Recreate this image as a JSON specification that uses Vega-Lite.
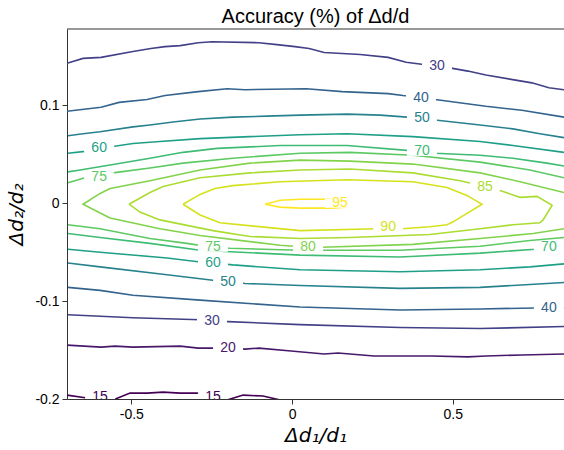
{
  "$schema": "https://vega.github.io/schema/vega-lite/v6.json",
  "width": 497,
  "height": 370,
  "autosize": {"type": "none"},
  "padding": {"left": 67, "top": 29, "right": 0, "bottom": 51},
  "background": "white",
  "config": {
    "view": {"stroke": null},
    "font": "Liberation Sans",
    "axis": {
      "domainColor": "#333333",
      "tickColor": "#333333",
      "labelColor": "#000000",
      "labelFont": "Liberation Sans",
      "labelFontSize": 14,
      "tickSize": 5,
      "grid": false,
      "labelFlush": false,
      "labelOverlap": false,
      "titleFont": "DejaVu Sans",
      "titleFontSize": 20,
      "titleFontWeight": "normal",
      "titleFontStyle": "italic",
      "titleColor": "#000000"
    }
  },
  "title": {"text": "Accuracy (%) of Δd/d", "fontSize": 20, "font": "Liberation Sans", "fontWeight": "normal", "color": "#000000", "anchor": "middle", "offset": 2},
  "datasets": {
    "lines": [
      {"lv":30,"g":"30u","o":0,"x":-0.700,"y":0.143},{"lv":30,"g":"30u","o":1,"x":-0.650,"y":0.148},{"lv":30,"g":"30u","o":2,"x":-0.594,"y":0.149},{"lv":30,"g":"30u","o":3,"x":-0.495,"y":0.155},{"lv":30,"g":"30u","o":4,"x":-0.439,"y":0.158},{"lv":30,"g":"30u","o":5,"x":-0.395,"y":0.160},{"lv":30,"g":"30u","o":6,"x":-0.348,"y":0.161},{"lv":30,"g":"30u","o":7,"x":-0.292,"y":0.164},{"lv":30,"g":"30u","o":8,"x":-0.249,"y":0.165},{"lv":30,"g":"30u","o":9,"x":-0.103,"y":0.164},{"lv":30,"g":"30u","o":10,"x":-0.047,"y":0.162},{"lv":30,"g":"30u","o":11,"x":0.009,"y":0.160},{"lv":30,"g":"30u","o":12,"x":0.053,"y":0.158},{"lv":30,"g":"30u","o":13,"x":0.100,"y":0.154},{"lv":30,"g":"30u","o":14,"x":0.212,"y":0.152},{"lv":30,"g":"30u","o":15,"x":0.299,"y":0.149},{"lv":30,"g":"30u","o":16,"x":0.355,"y":0.144},{"lv":30,"g":"30u","o":17,"x":0.451,"y":0.140},{"lv":30,"g":"30u","o":18,"x":0.495,"y":0.138},{"lv":30,"g":"30u","o":19,"x":0.547,"y":0.135},{"lv":30,"g":"30u","o":20,"x":0.603,"y":0.131},{"lv":30,"g":"30u","o":21,"x":0.691,"y":0.126},{"lv":30,"g":"30u","o":22,"x":0.746,"y":0.123},{"lv":30,"g":"30u","o":23,"x":0.799,"y":0.118},{"lv":30,"g":"30u","o":24,"x":0.846,"y":0.116},

      {"lv":40,"g":"40u","o":0,"x":-0.700,"y":0.094},{"lv":40,"g":"40u","o":1,"x":-0.594,"y":0.098},{"lv":40,"g":"40u","o":2,"x":-0.538,"y":0.103},{"lv":40,"g":"40u","o":3,"x":-0.451,"y":0.106},{"lv":40,"g":"40u","o":4,"x":-0.395,"y":0.110},{"lv":40,"g":"40u","o":5,"x":-0.292,"y":0.114},{"lv":40,"g":"40u","o":6,"x":-0.202,"y":0.117},{"lv":40,"g":"40u","o":7,"x":-0.146,"y":0.116},{"lv":40,"g":"40u","o":8,"x":0.044,"y":0.117},{"lv":40,"g":"40u","o":9,"x":0.156,"y":0.114},{"lv":40,"g":"40u","o":10,"x":0.299,"y":0.112},{"lv":40,"g":"40u","o":11,"x":0.345,"y":0.110},{"lv":40,"g":"40u","o":12,"x":0.401,"y":0.108},{"lv":40,"g":"40u","o":13,"x":0.445,"y":0.106},{"lv":40,"g":"40u","o":14,"x":0.603,"y":0.099},{"lv":40,"g":"40u","o":15,"x":0.715,"y":0.095},{"lv":40,"g":"40u","o":16,"x":0.846,"y":0.088},

      {"lv":50,"g":"50u","o":0,"x":-0.697,"y":0.069},{"lv":50,"g":"50u","o":1,"x":-0.650,"y":0.071},{"lv":50,"g":"50u","o":2,"x":-0.597,"y":0.073},{"lv":50,"g":"50u","o":3,"x":-0.495,"y":0.078},{"lv":50,"g":"50u","o":4,"x":-0.442,"y":0.080},{"lv":50,"g":"50u","o":5,"x":-0.370,"y":0.083},{"lv":50,"g":"50u","o":6,"x":-0.286,"y":0.086},{"lv":50,"g":"50u","o":7,"x":-0.184,"y":0.088},{"lv":50,"g":"50u","o":8,"x":-0.078,"y":0.089},{"lv":50,"g":"50u","o":9,"x":0.025,"y":0.090},{"lv":50,"g":"50u","o":10,"x":0.171,"y":0.091},{"lv":50,"g":"50u","o":11,"x":0.274,"y":0.090},{"lv":50,"g":"50u","o":12,"x":0.358,"y":0.088},{"lv":50,"g":"50u","o":13,"x":0.404,"y":0.087},{"lv":50,"g":"50u","o":14,"x":0.445,"y":0.085},{"lv":50,"g":"50u","o":15,"x":0.585,"y":0.080},{"lv":50,"g":"50u","o":16,"x":0.687,"y":0.076},{"lv":50,"g":"50u","o":17,"x":0.771,"y":0.071},{"lv":50,"g":"50u","o":18,"x":0.846,"y":0.067},

      {"lv":60,"g":"60u","o":0,"x":-0.697,"y":0.051},{"lv":60,"g":"60u","o":1,"x":-0.644,"y":0.053},{"lv":60,"g":"60u","o":2,"x":-0.600,"y":0.056},{"lv":60,"g":"60u","o":3,"x":-0.557,"y":0.058},{"lv":60,"g":"60u","o":4,"x":-0.495,"y":0.061},{"lv":60,"g":"60u","o":5,"x":-0.411,"y":0.063},{"lv":60,"g":"60u","o":6,"x":-0.286,"y":0.066},{"lv":60,"g":"60u","o":7,"x":-0.131,"y":0.068},{"lv":60,"g":"60u","o":8,"x":0.025,"y":0.070},{"lv":60,"g":"60u","o":9,"x":0.171,"y":0.071},{"lv":60,"g":"60u","o":10,"x":0.376,"y":0.068},{"lv":60,"g":"60u","o":11,"x":0.585,"y":0.063},{"lv":60,"g":"60u","o":12,"x":0.687,"y":0.059},{"lv":60,"g":"60u","o":13,"x":0.846,"y":0.052},

      {"lv":70,"g":"70u","o":0,"x":-0.697,"y":0.032},{"lv":70,"g":"70u","o":1,"x":-0.659,"y":0.034},{"lv":70,"g":"70u","o":2,"x":-0.566,"y":0.039},{"lv":70,"g":"70u","o":3,"x":-0.442,"y":0.046},{"lv":70,"g":"70u","o":4,"x":-0.339,"y":0.052},{"lv":70,"g":"70u","o":5,"x":-0.233,"y":0.056},{"lv":70,"g":"70u","o":6,"x":-0.037,"y":0.059},{"lv":70,"g":"70u","o":7,"x":0.171,"y":0.059},{"lv":70,"g":"70u","o":8,"x":0.358,"y":0.054},{"lv":70,"g":"70u","o":9,"x":0.404,"y":0.053},{"lv":70,"g":"70u","o":10,"x":0.445,"y":0.051},{"lv":70,"g":"70u","o":11,"x":0.585,"y":0.049},{"lv":70,"g":"70u","o":12,"x":0.687,"y":0.046},{"lv":70,"g":"70u","o":13,"x":0.793,"y":0.041},{"lv":70,"g":"70u","o":14,"x":0.846,"y":0.038},

      {"lv":75,"g":"75u","o":0,"x":-0.697,"y":0.021},{"lv":75,"g":"75u","o":1,"x":-0.644,"y":0.026},{"lv":75,"g":"75u","o":2,"x":-0.600,"y":0.027},{"lv":75,"g":"75u","o":3,"x":-0.557,"y":0.031},{"lv":75,"g":"75u","o":4,"x":-0.442,"y":0.036},{"lv":75,"g":"75u","o":5,"x":-0.339,"y":0.041},{"lv":75,"g":"75u","o":6,"x":-0.184,"y":0.046},{"lv":75,"g":"75u","o":7,"x":0.025,"y":0.051},{"lv":75,"g":"75u","o":8,"x":0.180,"y":0.052},{"lv":75,"g":"75u","o":9,"x":0.376,"y":0.049},{"lv":75,"g":"75u","o":10,"x":0.585,"y":0.042},{"lv":75,"g":"75u","o":11,"x":0.740,"y":0.034},{"lv":75,"g":"75u","o":12,"x":0.846,"y":0.026},

      {"lv":80,"g":"80","o":0,"x":0.846,"y":0.011},{"lv":80,"g":"80","o":1,"x":0.709,"y":0.022},{"lv":80,"g":"80","o":2,"x":0.585,"y":0.031},{"lv":80,"g":"80","o":3,"x":0.376,"y":0.040},{"lv":80,"g":"80","o":4,"x":0.180,"y":0.043},{"lv":80,"g":"80","o":5,"x":0.025,"y":0.044},{"lv":80,"g":"80","o":6,"x":-0.131,"y":0.041},{"lv":80,"g":"80","o":7,"x":-0.286,"y":0.034},{"lv":80,"g":"80","o":8,"x":-0.442,"y":0.023},{"lv":80,"g":"80","o":9,"x":-0.566,"y":0.015},{"lv":80,"g":"80","o":10,"x":-0.597,"y":0.010},{"lv":80,"g":"80","o":11,"x":-0.650,"y":-0.001},{"lv":80,"g":"80","o":12,"x":-0.597,"y":-0.010},{"lv":80,"g":"80","o":13,"x":-0.566,"y":-0.015},{"lv":80,"g":"80","o":14,"x":-0.411,"y":-0.026},{"lv":80,"g":"80","o":15,"x":-0.286,"y":-0.033},{"lv":80,"g":"80","o":16,"x":-0.037,"y":-0.043},{"lv":80,"g":"80","o":17,"x":0.050,"y":-0.045},{"lv":80,"g":"80","o":18,"x":0.093,"y":-0.045},{"lv":80,"g":"80","o":19,"x":0.376,"y":-0.042},{"lv":80,"g":"80","o":20,"x":0.585,"y":-0.036},{"lv":80,"g":"80","o":21,"x":0.750,"y":-0.031},{"lv":80,"g":"80","o":22,"x":0.846,"y":-0.026},

      {"lv":85,"g":"85","o":0,"x":-0.507,"y":-0.001},{"lv":85,"g":"85","o":1,"x":-0.442,"y":0.011},{"lv":85,"g":"85","o":2,"x":-0.401,"y":0.017},{"lv":85,"g":"85","o":3,"x":-0.286,"y":0.026},{"lv":85,"g":"85","o":4,"x":-0.131,"y":0.031},{"lv":85,"g":"85","o":5,"x":0.025,"y":0.034},{"lv":85,"g":"85","o":6,"x":0.180,"y":0.035},{"lv":85,"g":"85","o":7,"x":0.376,"y":0.031},{"lv":85,"g":"85","o":8,"x":0.523,"y":0.023},{"lv":85,"g":"85","o":9,"x":0.600,"y":0.017},{"lv":85,"g":"85","o":10,"x":0.647,"y":0.013},{"lv":85,"g":"85","o":11,"x":0.709,"y":0.006},{"lv":85,"g":"85","o":12,"x":0.762,"y":0.007},{"lv":85,"g":"85","o":13,"x":0.809,"y":-0.002},{"lv":85,"g":"85","o":14,"x":0.781,"y":-0.017},{"lv":85,"g":"85","o":15,"x":0.771,"y":-0.020},{"lv":85,"g":"85","o":16,"x":0.687,"y":-0.022},{"lv":85,"g":"85","o":17,"x":0.585,"y":-0.026},{"lv":85,"g":"85","o":18,"x":0.429,"y":-0.032},{"lv":85,"g":"85","o":19,"x":0.180,"y":-0.035},{"lv":85,"g":"85","o":20,"x":0.025,"y":-0.036},{"lv":85,"g":"85","o":21,"x":-0.131,"y":-0.034},{"lv":85,"g":"85","o":22,"x":-0.246,"y":-0.028},{"lv":85,"g":"85","o":23,"x":-0.411,"y":-0.017},{"lv":85,"g":"85","o":24,"x":-0.473,"y":-0.009},{"lv":85,"g":"85","o":25,"x":-0.507,"y":-0.001},

      {"lv":90,"g":"90","o":0,"x":-0.339,"y":-0.001},{"lv":90,"g":"90","o":1,"x":-0.286,"y":0.009},{"lv":90,"g":"90","o":2,"x":-0.240,"y":0.015},{"lv":90,"g":"90","o":3,"x":-0.184,"y":0.018},{"lv":90,"g":"90","o":4,"x":-0.037,"y":0.022},{"lv":90,"g":"90","o":5,"x":0.171,"y":0.024},{"lv":90,"g":"90","o":6,"x":0.376,"y":0.022},{"lv":90,"g":"90","o":7,"x":0.482,"y":0.016},{"lv":90,"g":"90","o":8,"x":0.544,"y":0.008},{"lv":90,"g":"90","o":9,"x":0.591,"y":-0.001},{"lv":90,"g":"90","o":10,"x":0.501,"y":-0.019},{"lv":90,"g":"90","o":11,"x":0.482,"y":-0.022},{"lv":90,"g":"90","o":12,"x":0.429,"y":-0.024},{"lv":90,"g":"90","o":13,"x":0.342,"y":-0.026},{"lv":90,"g":"90","o":14,"x":0.299,"y":-0.026},{"lv":90,"g":"90","o":15,"x":0.264,"y":-0.026},{"lv":90,"g":"90","o":16,"x":0.025,"y":-0.028},{"lv":90,"g":"90","o":17,"x":-0.224,"y":-0.020},{"lv":90,"g":"90","o":18,"x":-0.286,"y":-0.012},{"lv":90,"g":"90","o":19,"x":-0.339,"y":-0.001},

      {"lv":95,"g":"95","o":0,"x":-0.084,"y":-0.001},{"lv":95,"g":"95","o":1,"x":-0.037,"y":0.003},{"lv":95,"g":"95","o":2,"x":0.025,"y":0.004},{"lv":95,"g":"95","o":3,"x":0.118,"y":0.004},{"lv":95,"g":"95","o":4,"x":0.165,"y":0.002},{"lv":95,"g":"95","o":5,"x":0.180,"y":-0.001},{"lv":95,"g":"95","o":6,"x":0.165,"y":-0.004},{"lv":95,"g":"95","o":7,"x":0.118,"y":-0.005},{"lv":95,"g":"95","o":8,"x":0.025,"y":-0.005},{"lv":95,"g":"95","o":9,"x":-0.037,"y":-0.004},{"lv":95,"g":"95","o":10,"x":-0.084,"y":-0.001},

      {"lv":75,"g":"75l","o":0,"x":-0.697,"y":-0.022},{"lv":75,"g":"75l","o":1,"x":-0.597,"y":-0.026},{"lv":75,"g":"75l","o":2,"x":-0.442,"y":-0.036},{"lv":75,"g":"75l","o":3,"x":-0.327,"y":-0.041},{"lv":75,"g":"75l","o":4,"x":-0.246,"y":-0.045},{"lv":75,"g":"75l","o":5,"x":-0.193,"y":-0.046},{"lv":75,"g":"75l","o":6,"x":0.025,"y":-0.048},{"lv":75,"g":"75l","o":7,"x":0.336,"y":-0.048},{"lv":75,"g":"75l","o":8,"x":0.585,"y":-0.044},{"lv":75,"g":"75l","o":9,"x":0.740,"y":-0.038},{"lv":75,"g":"75l","o":10,"x":0.846,"y":-0.035},

      {"lv":70,"g":"70l","o":0,"x":-0.697,"y":-0.031},{"lv":70,"g":"70l","o":1,"x":-0.597,"y":-0.035},{"lv":70,"g":"70l","o":2,"x":-0.442,"y":-0.041},{"lv":70,"g":"70l","o":3,"x":-0.286,"y":-0.048},{"lv":70,"g":"70l","o":4,"x":0.025,"y":-0.053},{"lv":70,"g":"70l","o":5,"x":0.336,"y":-0.055},{"lv":70,"g":"70l","o":6,"x":0.585,"y":-0.051},{"lv":70,"g":"70l","o":7,"x":0.756,"y":-0.047},{"lv":70,"g":"70l","o":8,"x":0.799,"y":-0.045},{"lv":70,"g":"70l","o":9,"x":0.846,"y":-0.043},

      {"lv":60,"g":"60l","o":0,"x":-0.697,"y":-0.047},{"lv":60,"g":"60l","o":1,"x":-0.597,"y":-0.050},{"lv":60,"g":"60l","o":2,"x":-0.389,"y":-0.056},{"lv":60,"g":"60l","o":3,"x":-0.286,"y":-0.060},{"lv":60,"g":"60l","o":4,"x":-0.246,"y":-0.061},{"lv":60,"g":"60l","o":5,"x":-0.184,"y":-0.063},{"lv":60,"g":"60l","o":6,"x":0.025,"y":-0.068},{"lv":60,"g":"60l","o":7,"x":0.336,"y":-0.070},{"lv":60,"g":"60l","o":8,"x":0.585,"y":-0.068},{"lv":60,"g":"60l","o":9,"x":0.740,"y":-0.065},{"lv":60,"g":"60l","o":10,"x":0.846,"y":-0.062},

      {"lv":50,"g":"50l","o":0,"x":-0.697,"y":-0.061},{"lv":50,"g":"50l","o":1,"x":-0.597,"y":-0.065},{"lv":50,"g":"50l","o":2,"x":-0.389,"y":-0.073},{"lv":50,"g":"50l","o":3,"x":-0.240,"y":-0.079},{"lv":50,"g":"50l","o":4,"x":-0.199,"y":-0.080},{"lv":50,"g":"50l","o":5,"x":-0.146,"y":-0.082},{"lv":50,"g":"50l","o":6,"x":0.025,"y":-0.084},{"lv":50,"g":"50l","o":7,"x":0.336,"y":-0.087},{"lv":50,"g":"50l","o":8,"x":0.585,"y":-0.086},{"lv":50,"g":"50l","o":9,"x":0.740,"y":-0.083},{"lv":50,"g":"50l","o":10,"x":0.846,"y":-0.081},

      {"lv":40,"g":"40l","o":0,"x":-0.697,"y":-0.086},{"lv":40,"g":"40l","o":1,"x":-0.597,"y":-0.089},{"lv":40,"g":"40l","o":2,"x":-0.495,"y":-0.094},{"lv":40,"g":"40l","o":3,"x":-0.286,"y":-0.099},{"lv":40,"g":"40l","o":4,"x":0.025,"y":-0.106},{"lv":40,"g":"40l","o":5,"x":0.336,"y":-0.109},{"lv":40,"g":"40l","o":6,"x":0.585,"y":-0.108},{"lv":40,"g":"40l","o":7,"x":0.756,"y":-0.107},{"lv":40,"g":"40l","o":8,"x":0.799,"y":-0.107},{"lv":40,"g":"40l","o":9,"x":0.846,"y":-0.107},

      {"lv":30,"g":"30l","o":0,"x":-0.697,"y":-0.114},{"lv":30,"g":"30l","o":1,"x":-0.495,"y":-0.117},{"lv":30,"g":"30l","o":2,"x":-0.286,"y":-0.119},{"lv":30,"g":"30l","o":3,"x":-0.249,"y":-0.120},{"lv":30,"g":"30l","o":4,"x":-0.199,"y":-0.121},{"lv":30,"g":"30l","o":5,"x":0.025,"y":-0.124},{"lv":30,"g":"30l","o":6,"x":0.336,"y":-0.127},{"lv":30,"g":"30l","o":7,"x":0.585,"y":-0.128},{"lv":30,"g":"30l","o":8,"x":0.846,"y":-0.126},

      {"lv":20,"g":"20","o":0,"x":-0.700,"y":-0.145},{"lv":20,"g":"20","o":1,"x":-0.594,"y":-0.147},{"lv":20,"g":"20","o":2,"x":-0.551,"y":-0.146},{"lv":20,"g":"20","o":3,"x":-0.495,"y":-0.147},{"lv":20,"g":"20","o":4,"x":-0.348,"y":-0.146},{"lv":20,"g":"20","o":5,"x":-0.292,"y":-0.148},{"lv":20,"g":"20","o":6,"x":-0.199,"y":-0.148},{"lv":20,"g":"20","o":7,"x":-0.146,"y":-0.149},{"lv":20,"g":"20","o":8,"x":-0.103,"y":-0.148},{"lv":20,"g":"20","o":9,"x":-0.003,"y":-0.151},{"lv":20,"g":"20","o":10,"x":0.100,"y":-0.154},{"lv":20,"g":"20","o":11,"x":0.143,"y":-0.153},{"lv":20,"g":"20","o":12,"x":0.255,"y":-0.156},{"lv":20,"g":"20","o":13,"x":0.435,"y":-0.156},{"lv":20,"g":"20","o":14,"x":0.547,"y":-0.157},{"lv":20,"g":"20","o":15,"x":0.603,"y":-0.156},{"lv":20,"g":"20","o":16,"x":0.715,"y":-0.155},{"lv":20,"g":"20","o":17,"x":0.846,"y":-0.154},

      {"lv":15,"g":"15","o":0,"x":-0.700,"y":-0.196},{"lv":15,"g":"15","o":1,"x":-0.638,"y":-0.199},{"lv":15,"g":"15","o":2,"x":-0.597,"y":-0.201},{"lv":15,"g":"15","o":3,"x":-0.557,"y":-0.201},{"lv":15,"g":"15","o":4,"x":-0.504,"y":-0.194},{"lv":15,"g":"15","o":5,"x":-0.451,"y":-0.194},{"lv":15,"g":"15","o":6,"x":-0.401,"y":-0.193},{"lv":15,"g":"15","o":7,"x":-0.348,"y":-0.194},{"lv":15,"g":"15","o":8,"x":-0.295,"y":-0.194},{"lv":15,"g":"15","o":9,"x":-0.271,"y":-0.197},{"lv":15,"g":"15","o":10,"x":-0.246,"y":-0.201},{"lv":15,"g":"15","o":11,"x":-0.202,"y":-0.201},{"lv":15,"g":"15","o":12,"x":-0.152,"y":-0.196},{"lv":15,"g":"15","o":13,"x":-0.090,"y":-0.197},{"lv":15,"g":"15","o":14,"x":-0.037,"y":-0.201}
    ],
    "labels": [
      {"t":"30","lv":30,"x":0.451,"y":0.140},
      {"t":"40","lv":40,"x":0.401,"y":0.108},
      {"t":"50","lv":50,"x":0.404,"y":0.087},
      {"t":"60","lv":60,"x":-0.600,"y":0.056},
      {"t":"70","lv":70,"x":0.404,"y":0.053},
      {"t":"75","lv":75,"x":-0.600,"y":0.027},
      {"t":"85","lv":85,"x":0.600,"y":0.017},
      {"t":"95","lv":95,"x":0.149,"y":0.000},
      {"t":"90","lv":90,"x":0.299,"y":-0.024},
      {"t":"80","lv":80,"x":0.050,"y":-0.045},
      {"t":"75","lv":75,"x":-0.246,"y":-0.045},
      {"t":"70","lv":70,"x":0.799,"y":-0.045},
      {"t":"60","lv":60,"x":-0.246,"y":-0.061},
      {"t":"50","lv":50,"x":-0.199,"y":-0.080},
      {"t":"40","lv":40,"x":0.799,"y":-0.107},
      {"t":"30","lv":30,"x":-0.249,"y":-0.120},
      {"t":"20","lv":20,"x":-0.199,"y":-0.148},
      {"t":"15","lv":15,"x":-0.597,"y":-0.198},
      {"t":"15","lv":15,"x":-0.246,"y":-0.198}
    ]
  },
  "layer": [
    {
      "data": {"name": "lines"},
      "mark": {"type": "line", "strokeWidth": 1.6, "clip": true},
      "encoding": {
        "x": {"field": "x", "type": "quantitative", "scale": {"domain": [-0.7, 0.846], "nice": false, "zero": false},
              "axis": {"values": [-0.5, 0, 0.5], "title": "Δd₁/d₁", "titlePadding": 4, "labelPadding": 3,
                       "labelExpr": "datum.value < 0 ? '-' + format(-datum.value, '.1f') : (datum.value == 0 ? '0' : format(datum.value, '.1f'))"}},
        "y": {"field": "y", "type": "quantitative", "scale": {"domain": [-0.2, 0.178], "nice": false, "zero": false},
              "axis": {"values": [-0.2, -0.1, 0, 0.1], "title": "Δd₂/d₂", "titlePadding": 8, "labelPadding": 3,
                       "labelExpr": "datum.value < 0 ? '-' + format(-datum.value, '.1f') : (datum.value == 0 ? '0' : format(datum.value, '.1f'))"}},
        "color": {"field": "lv", "type": "quantitative", "scale": {"scheme": "viridis", "domain": [15, 95]}, "legend": null},
        "detail": {"field": "g"},
        "order": {"field": "o", "type": "quantitative"}
      }
    },
    {
      "data": {"name": "labels"},
      "mark": {"type": "point", "shape": "M-1,-0.3H1V0.3H-1Z", "filled": true, "color": "white", "opacity": 1, "strokeWidth": 0, "size": 900, "clip": true},
      "encoding": {
        "x": {"field": "x", "type": "quantitative"},
        "y": {"field": "y", "type": "quantitative"}
      }
    },
    {
      "data": {"name": "labels"},
      "mark": {"type": "text", "fontSize": 14, "font": "Liberation Sans", "clip": true, "baseline": "middle", "align": "center"},
      "encoding": {
        "x": {"field": "x", "type": "quantitative"},
        "y": {"field": "y", "type": "quantitative"},
        "text": {"field": "t"},
        "color": {"field": "lv", "type": "quantitative", "scale": {"scheme": "viridis", "domain": [15, 95]}, "legend": null}
      }
    },
    {
      "data": {"values": [{}]},
      "mark": {"type": "rule", "color": "#333333", "strokeWidth": 1},
      "encoding": {"y": {"datum": 0.178}}
    }
  ]
}
